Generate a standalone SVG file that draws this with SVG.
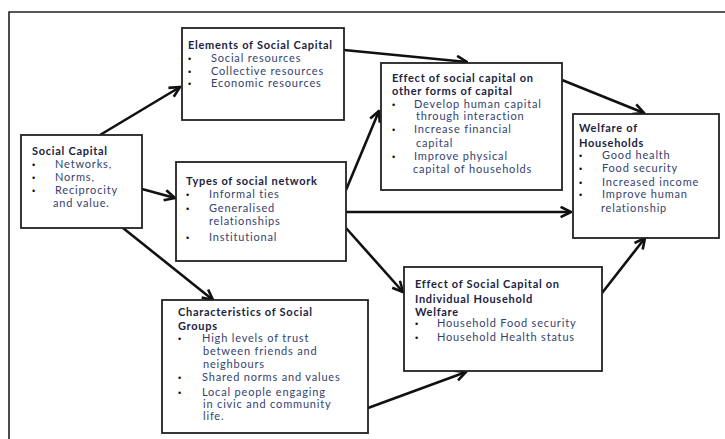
<svg xmlns="http://www.w3.org/2000/svg" width="725" height="439" viewBox="0 0 725 439">
<style>
.box{fill:#fff;stroke:#222;stroke-width:1.8}
.t{font-family:Lato,"Liberation Sans",sans-serif;font-size:11px;letter-spacing:0.72px;font-weight:bold;fill:#1c2340}
.i{font-family:Lato,"Liberation Sans",sans-serif;font-size:11px;letter-spacing:0.82px;fill:#34426e}
.b{font-family:"Liberation Sans",sans-serif;font-size:9px;fill:#111}
.c{stroke:#111;stroke-width:2.6;fill:none;marker-end:url(#ah)}
</style>
<defs>
<marker id="ah" viewBox="0 0 10 10" refX="9" refY="5" markerWidth="5" markerHeight="5" orient="auto" markerUnits="strokeWidth">
<path d="M1,1 L9,5 L1,9" fill="none" stroke="#111" stroke-width="2"/>
</marker>
</defs>
<rect width="725" height="439" fill="#fff"/>
<path d="M9,439 L9,12 L725,12" fill="none" stroke="#222" stroke-width="1.6"/>

<g id="connectors">
<line class="c" x1="100" y1="135" x2="180" y2="87"/>
<line class="c" x1="142" y1="189" x2="175" y2="198"/>
<line class="c" x1="123" y1="228" x2="213" y2="300"/>
<line class="c" x1="344" y1="50" x2="467" y2="62"/>
<line class="c" x1="346" y1="190" x2="379" y2="111"/>
<line class="c" x1="346" y1="212" x2="571" y2="212"/>
<line class="c" x1="346" y1="228" x2="403" y2="292"/>
<line class="c" x1="562" y1="80" x2="644" y2="113"/>
<line class="c" x1="602" y1="293" x2="645" y2="238"/>
<line class="c" x1="368" y1="408" x2="466" y2="372"/>
</g>

<g id="elements">
<rect class="box" x="182" y="28" width="162" height="92"/>
<text class="t" x="188" y="49">Elements of Social Capital</text>
<text class="b" x="188" y="62">•</text><text class="i" x="211" y="62">Social resources</text>
<text class="b" x="188" y="75">•</text><text class="i" x="211" y="75">Collective resources</text>
<text class="b" x="188" y="87">•</text><text class="i" x="211" y="87">Economic resources</text>
</g>

<g id="social-capital">
<rect class="box" x="21" y="135" width="121" height="93"/>
<text class="t" x="32" y="155">Social Capital</text>
<text class="b" x="32" y="168">•</text><text class="i" x="55" y="168">Networks,</text>
<text class="b" x="32" y="181">•</text><text class="i" x="55" y="181">Norms,</text>
<text class="b" x="32" y="194">•</text><text class="i" x="55" y="194">Reciprocity</text>
<text class="i" x="53" y="207">and value.</text>
</g>

<g id="types">
<rect class="box" x="176" y="162" width="170" height="99"/>
<text class="t" x="186" y="185">Types of social network</text>
<text class="b" x="186" y="198">•</text><text class="i" x="209" y="198">Informal ties</text>
<text class="b" x="186" y="212">•</text><text class="i" x="209" y="212">Generalised</text>
<text class="i" x="209" y="225">relationships</text>
<text class="b" x="186" y="241">•</text><text class="i" x="209" y="241">Institutional</text>
</g>

<g id="characteristics">
<rect class="box" x="162" y="300" width="206" height="133"/>
<text class="t" x="178" y="316">Characteristics of Social</text>
<text class="t" x="178" y="330">Groups</text>
<text class="b" x="178" y="342">•</text><text class="i" x="202" y="342">High levels of trust</text>
<text class="i" x="203" y="355">between friends and</text>
<text class="i" x="203" y="368">neighbours</text>
<text class="b" x="178" y="381">•</text><text class="i" x="202" y="381">Shared norms and values</text>
<text class="b" x="178" y="396">•</text><text class="i" x="202" y="396">Local people engaging</text>
<text class="i" x="203" y="408">in civic and community</text>
<text class="i" x="203" y="420">life.</text>
</g>

<g id="effect-other">
<rect class="box" x="381" y="63" width="181" height="127"/>
<text class="t" x="392" y="82">Effect of social capital on</text>
<text class="t" x="392" y="95">other forms of capital</text>
<text class="b" x="392" y="108">•</text><text class="i" x="414" y="108">Develop human capital</text>
<text class="i" x="416" y="120">through interaction</text>
<text class="b" x="392" y="133">•</text><text class="i" x="414" y="133">Increase financial</text>
<text class="i" x="416" y="147">capital</text>
<text class="b" x="392" y="160">•</text><text class="i" x="414" y="160">Improve physical</text>
<text class="i" x="413" y="173">capital of households</text>
</g>

<g id="welfare">
<rect class="box" x="573" y="114" width="146" height="124"/>
<text class="t" x="579" y="132">Welfare of</text>
<text class="t" x="579" y="147">Households</text>
<text class="b" x="579" y="159">•</text><text class="i" x="602" y="159">Good health</text>
<text class="b" x="579" y="172">•</text><text class="i" x="602" y="172">Food security</text>
<text class="b" x="579" y="186">•</text><text class="i" x="602" y="186">Increased income</text>
<text class="b" x="579" y="198">•</text><text class="i" x="602" y="198">Improve human</text>
<text class="i" x="601" y="212">relationship</text>
</g>

<g id="effect-individual">
<rect class="box" x="404" y="267" width="198" height="104"/>
<text class="t" x="415" y="288">Effect of Social Capital on</text>
<text class="t" x="415" y="303">Individual Household</text>
<text class="t" x="415" y="316">Welfare</text>
<text class="b" x="415" y="327">•</text><text class="i" x="437" y="327">Household Food security</text>
<text class="b" x="415" y="341">•</text><text class="i" x="437" y="341">Household Health status</text>
</g>
</svg>
